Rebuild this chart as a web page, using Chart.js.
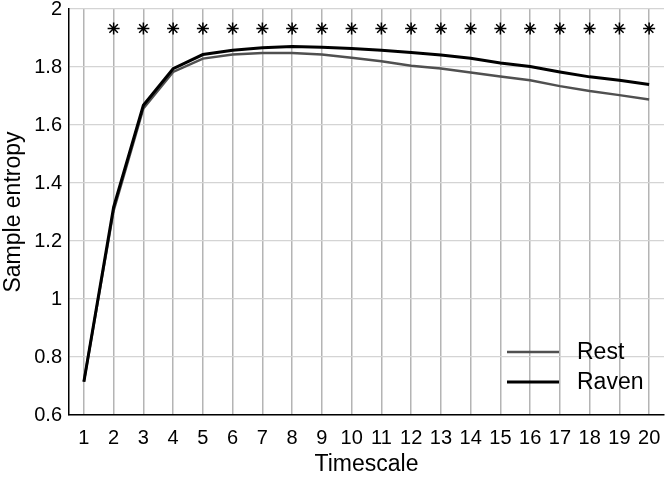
<!DOCTYPE html>
<html>
<head>
<meta charset="utf-8">
<script src="https://cdn.jsdelivr.net/npm/chart.js@4/dist/chart.umd.min.js"></script>
<style>
html,body{margin:0;padding:0;background:#fff;}
#wrap{width:666px;height:478px;position:relative;}
</style>
</head>
<body>
<div id="wrap"><canvas id="c" width="666" height="478"></canvas></div>
<script>
const timescales = [1,2,3,4,5,6,7,8,9,10,11,12,13,14,15,16,17,18,19,20];
const rest  = [0.715,1.305,1.657,1.783,1.829,1.843,1.848,1.848,1.843,1.832,1.820,1.804,1.795,1.781,1.767,1.754,1.734,1.717,1.703,1.688];
const raven = [0.715,1.317,1.668,1.794,1.843,1.858,1.866,1.871,1.868,1.864,1.858,1.850,1.841,1.830,1.814,1.802,1.783,1.766,1.754,1.740];
const significance = [null,1.933,1.933,1.933,1.933,1.933,1.933,1.933,1.933,1.933,1.933,1.933,1.933,1.933,1.933,1.933,1.933,1.933,1.933,1.933];
const yTicks = [0.6,0.8,1,1.2,1.4,1.6,1.8,2];
const seriesNames = ['Rest','Raven'];

const FONT = 'Liberation Sans, Arial, sans-serif';

const legendPlugin = {
  id: 'boxLegend',
  afterDraw(chart) {
    const ctx = chart.ctx;
    const a = chart.chartArea;
    const items = [
      {ds: chart.data.datasets[0], y: a.bottom - 63},
      {ds: chart.data.datasets[1], y: a.bottom - 33}
    ];
    ctx.save();
    ctx.font = '23px ' + FONT;
    ctx.textBaseline = 'middle';
    ctx.textAlign = 'left';
    items.forEach(it => {
      ctx.strokeStyle = it.ds.borderColor;
      ctx.lineWidth = it.ds.borderWidth;
      ctx.beginPath();
      ctx.moveTo(a.right - 157, it.y);
      ctx.lineTo(a.right - 105, it.y);
      ctx.stroke();
      ctx.fillStyle = '#000';
      ctx.fillText(it.ds.label, a.right - 87, it.y + 1);
    });
    ctx.restore();
  }
};

new Chart(document.getElementById('c'), {
  type: 'line',
  data: {
    labels: timescales,
    datasets: [
      {label: seriesNames[0], data: rest, borderColor: '#505050', borderWidth: 2.5, pointRadius: 0, tension: 0, order: 2},
      {label: seriesNames[1], data: raven, borderColor: '#000000', borderWidth: 3, pointRadius: 0, tension: 0, order: 1},
      {label: 'sig', data: significance, showLine: false, pointStyle: 'star', pointRadius: 6, borderColor: '#000', borderWidth: 1.5, backgroundColor: '#000', order: 0}
    ]
  },
  options: {
    responsive: false,
    animation: false,
    layout: {autoPadding: false, padding: {top: 9, right: 2, left: 0, bottom: 0}},
    plugins: {legend: {display: false}, tooltip: {enabled: false}},
    scales: {
      x: {
        type: 'category',
        offset: true,
        grid: {offset: false, color: '#b4b4b4', lineWidth: 1.5, drawTicks: false},
        border: {color: '#000', width: 1.5},
        ticks: {color: '#000', font: {family: FONT, size: 20}, padding: 11, maxRotation: 0, autoSkip: false},
        title: {display: true, text: 'Timescale', color: '#000', font: {family: FONT, size: 23}, padding: {top: 0, bottom: 0}},
        afterFit(s) { s.height = 63; s.paddingLeft = 0; s.paddingRight = 0; }
      },
      y: {
        min: 0.6, max: 2,
        afterBuildTicks(s) { s.ticks = yTicks.map(v => ({value: v})); },
        grid: {color: '#d4d4d4', lineWidth: 1.2, drawTicks: false},
        border: {color: '#000', width: 1.5},
        ticks: {color: '#000', font: {family: FONT, size: 20}, padding: 7, callback: v => String(Number(v.toFixed(1)))},
        title: {display: true, text: 'Sample entropy', color: '#000', font: {family: FONT, size: 23}, padding: {top: 0, bottom: 3}},
        afterFit(s) { s.width = 69; s.paddingTop = 0; s.paddingBottom = 0; }
      }
    }
  },
  plugins: [legendPlugin]
});
</script>
</body>
</html>
